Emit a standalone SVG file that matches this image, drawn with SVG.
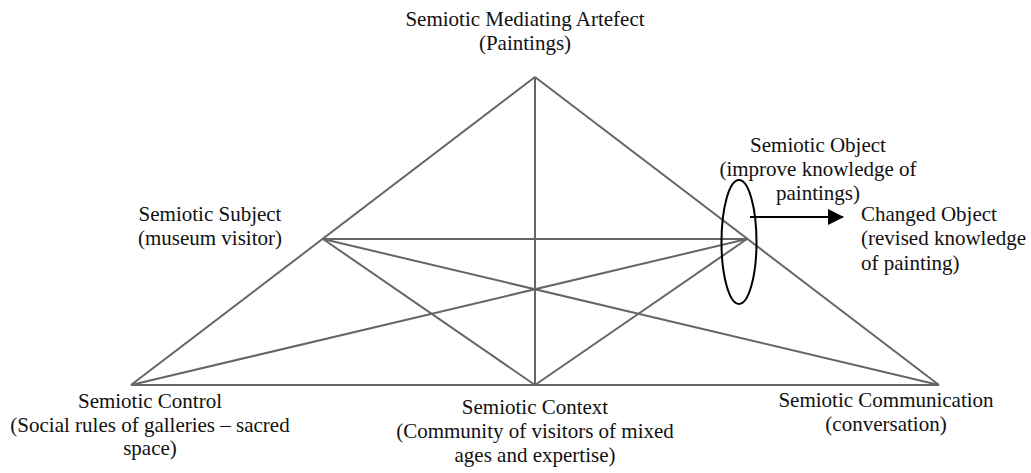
<svg xmlns="http://www.w3.org/2000/svg" width="1031" height="473" viewBox="0 0 1031 473">
<style>
.t{font-family:"Liberation Serif","Times New Roman",serif;font-size:21px;fill:#111}
.c{text-anchor:middle}
.e{stroke:#666;stroke-width:2;fill:none}
.k{stroke:#000;stroke-width:2;fill:none}
</style>
<defs>
<marker id="ah" markerWidth="16" markerHeight="16" refX="15" refY="8" orient="auto" markerUnits="userSpaceOnUse">
<path d="M0,0 L16,8 L0,16 Z" fill="#000"/>
</marker>
</defs>
<g id="connectors">
<line class="e" x1="535" y1="77" x2="131" y2="385"/>
<line class="e" x1="535" y1="77" x2="939" y2="385"/>
<line class="e" x1="535" y1="77" x2="535" y2="385"/>
<line class="e" x1="131" y1="385" x2="939" y2="385"/>
<line class="e" x1="323" y1="239" x2="747" y2="239"/>
<line class="e" x1="323" y1="239" x2="535" y2="385"/>
<line class="e" x1="323" y1="239" x2="939" y2="385"/>
<line class="e" x1="747" y1="239" x2="131" y2="385"/>
<line class="e" x1="747" y1="239" x2="535" y2="385"/>
<line class="k" x1="750" y1="217" x2="843" y2="217" marker-end="url(#ah)"/>
</g>
<g id="artefact"><text class="t c" x="525" y="26">Semiotic Mediating Artefect</text><text class="t c" x="525" y="50">(Paintings)</text></g>
<g id="subject"><text class="t c" x="210" y="221">Semiotic Subject</text><text class="t c" x="210" y="245">(museum visitor)</text></g>
<g id="object"><ellipse class="k" cx="739" cy="242" rx="17.5" ry="62"/><text class="t c" x="818" y="152">Semiotic Object</text><text class="t c" x="818" y="176">(improve knowledge of</text><text class="t c" x="818" y="200">paintings)</text></g>
<g id="changed"><text class="t" x="861" y="221">Changed Object</text><text class="t" x="861" y="245">(revised knowledge</text><text class="t" x="861" y="270">of painting)</text></g>
<g id="control"><text class="t c" x="150" y="408">Semiotic Control</text><text class="t c" x="150" y="432">(Social rules of galleries – sacred</text><text class="t c" x="150" y="455">space)</text></g>
<g id="context"><text class="t c" x="535" y="414">Semiotic Context</text><text class="t c" x="535" y="438">(Community of visitors of mixed</text><text class="t c" x="535" y="462">ages and expertise)</text></g>
<g id="communication"><text class="t c" x="886" y="407">Semiotic Communication</text><text class="t c" x="886" y="431">(conversation)</text></g>
</svg>
